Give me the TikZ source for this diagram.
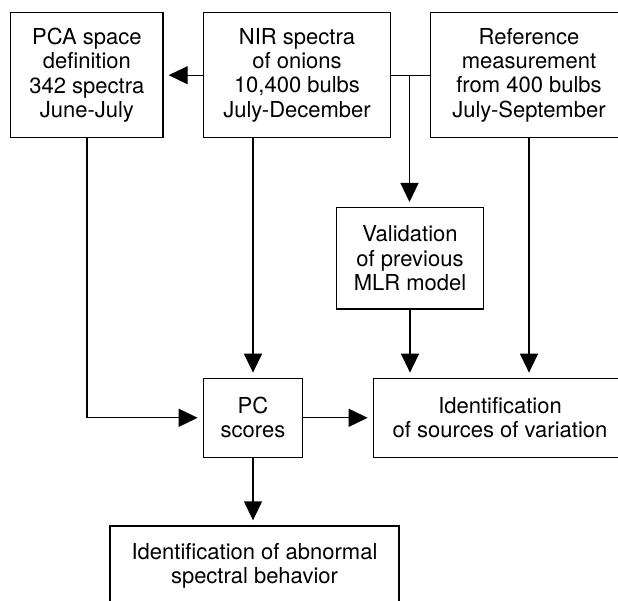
\documentclass[tikz,border=0pt]{standalone}
\usepackage{fontspec}
\setmainfont{TeX Gyre Heros}
\usetikzlibrary{arrows.meta}
\begin{document}
\begin{tikzpicture}[x=1pt,y=-1pt,
  box/.style={draw,line width=1.3pt,align=center,inner sep=0pt,font=\fontsize{22}{24.2}\selectfont},
  conn/.style={line width=1.3pt},
  arr/.style={conn,-{Triangle[length=19pt,width=18pt]},shorten >=5pt}]
\clip (0,0) rectangle (618,601);
\node[box,minimum width=152.3pt,minimum height=125pt] (pca) at (86.85,75.2) {PCA space\\definition\\342 spectra\\June-July};
\node[box,minimum width=187.4pt,minimum height=125pt] (nir) at (297,75.2) {NIR spectra\\of onions\\10,400 bulbs\\July-December};
\node[box,minimum width=196.6pt,minimum height=125pt] (ref) at (529,75.2) {Reference\\measurement\\from 400 bulbs\\July-September};
\node[box,minimum width=146.6pt,minimum height=101.3pt] (val) at (410,258.3) {Validation\\of previous\\MLR model};
\node[box,minimum width=99.4pt,minimum height=79pt] (pc) at (253,417.8) {PC\\scores};
\node[box,minimum width=253.4pt,minimum height=79pt] (id) at (500,417.8) {Identification\\of sources of variation};
\node[box,minimum width=289pt,minimum height=80pt] (ab) at (254.5,566) {Identification of abnormal\\spectral behavior};
\coordinate (br) at (409.5,75.2);
\draw[arr] (nir.west) -- (pca.east);
\draw[conn] (nir.east) -- (ref.west);
\draw[arr] (br) -- (br |- val.north);
\draw[arr] (val.south) -- (val.south |- id.north);
\draw[arr] (ref.south) -- (ref.south |- id.north);
\draw[arr] (pc.north |- nir.south) -- (pc.north);
\draw[arr] (pca.south) |- (pc.west);
\draw[arr] (pc.east) -- (pc.east -| id.west);
\draw[arr] (pc.south) -- (pc.south |- ab.north);
\end{tikzpicture}
\end{document}
